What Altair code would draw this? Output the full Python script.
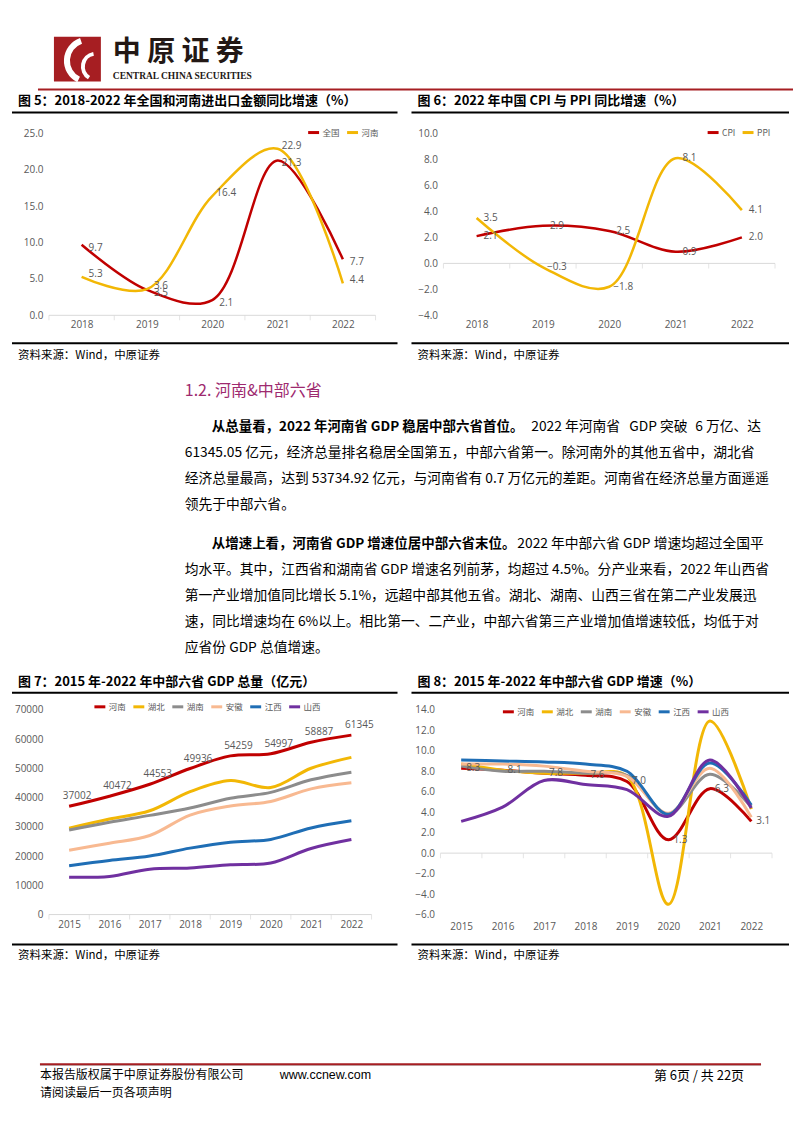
import altair as alt
import pandas as pd

CJK = "Noto Sans CJK SC"
NUM = "Open Sans"
GREY = "#595959"
AXISLINE = "#d9d9d9"
RED = "#C00000"
YEL = "#F2B705"

# ---------------- data ----------------
years5 = [2018, 2019, 2020, 2021, 2022]
series5 = ["全国", "河南"]
nation5 = [9.7, 3.5, 2.1, 21.3, 7.7]
henan5 = [5.3, 3.6, 16.4, 22.9, 4.4]

series6 = ["CPI", "PPI"]
cpi6 = [2.1, 2.9, 2.5, 0.9, 2.0]
ppi6 = [3.5, -0.3, -1.8, 8.1, 4.1]

years7 = [2015, 2016, 2017, 2018, 2019, 2020, 2021, 2022]
provinces = ["河南", "湖北", "湖南", "安徽", "江西", "山西"]
prov_colors = [RED, YEL, "#8C8C8C", "#F8B991", "#1F6EB5", "#7030A0"]

gdp_henan = [37002, 40472, 44553, 49936, 54259, 54997, 58887, 61345]
gdp_hubei = [29550, 32665, 35478, 42022, 45828, 43443, 50013, 53735]
gdp_hunan = [28902, 31551, 33903, 36426, 39752, 41782, 46063, 48670]
gdp_anhui = [22006, 24408, 27018, 34011, 37114, 38681, 42959, 45045]
gdp_jiangxi = [16724, 18499, 20006, 22716, 24758, 25692, 29620, 32075]
gdp_shanxi = [12766, 13050, 15528, 15958, 17027, 17652, 22590, 25643]

gr_henan = [8.3, 8.1, 7.8, 7.6, 7.0, 1.3, 6.3, 3.1]
gr_hubei = [8.7, 8.1, 7.8, 7.8, 7.5, -5.0, 12.9, 4.3]
gr_hunan = [8.5, 8.0, 8.0, 7.8, 7.6, 3.8, 7.7, 4.5]
gr_anhui = [8.7, 8.7, 8.5, 8.0, 7.5, 3.9, 8.3, 3.5]
gr_jiangxi = [9.1, 9.0, 8.9, 8.7, 8.0, 3.8, 8.8, 4.7]
gr_shanxi = [3.1, 4.5, 7.1, 6.7, 6.2, 3.6, 9.1, 4.4]

SOURCE = "资料来源：Wind，中原证券"
title5 = "图 5：2018-2022 年全国和河南进出口金额同比增速（%）"
title6 = "图 6：2022 年中国 CPI 与 PPI 同比增速（%）"
title7 = "图 7：2015 年-2022 年中部六省 GDP 总量（亿元）"
title8 = "图 8：2015 年-2022 年中部六省 GDP 增速（%）"

DUMMY = pd.DataFrame({"_": [0]})
OX = 41  # text rows share the plot origin of the first chart column


def long(years, names, arrays):
    rows = []
    for n, arr in zip(names, arrays):
        for yr, v in zip(years, arr):
            rows.append({"year": yr, "series": n, "value": v})
    return pd.DataFrame(rows)


def txt(s, x, y, size=12, weight="normal", color="#000000", font=CJK,
        align="left", baseline="middle"):
    return alt.Chart(DUMMY).mark_text(
        text=s, fontSize=size, fontWeight=weight, color=color, font=font,
        align=align, baseline=baseline
    ).encode(x=alt.value(x), y=alt.value(y))


def hline(x1, x2, y, color="#000000", width=2):
    return alt.Chart(DUMMY).mark_rule(color=color, strokeWidth=width).encode(
        x=alt.value(x1), x2=alt.value(x2), y=alt.value(y))


def panel(df, years, ydomain, yvalues, yfmt, width, height, names, colors,
          lx, ly, label_dy, label_fmt, ldx, title, title_x,
          line_l, line_r, ty, tly, bly, sy, stroke=2.5, xpad=4):
    xscale = alt.Scale(domain=[years[0] - 0.5, years[-1] + 0.5], nice=False, zero=False)
    yscale = alt.Scale(domain=ydomain, nice=False, zero=False)
    x = alt.X("year:Q", scale=xscale,
              axis=alt.Axis(values=years, format="d", title=None, labelPadding=xpad,
                            labelFlush=False))
    y = alt.Y("value:Q", scale=yscale,
              axis=alt.Axis(values=yvalues, format=yfmt, title=None, minExtent=41,
                            maxExtent=41, labelPadding=6))
    bnds = [yr - 0.5 for yr in years] + [years[-1] + 0.5]
    zero = alt.Chart(pd.DataFrame({"value": [0]})).mark_rule(
        color=AXISLINE, strokeWidth=1).encode(y=y)
    ticks = alt.Chart(pd.DataFrame({"year": bnds, "value": [0] * len(bnds)})).mark_tick(
        orient="vertical", size=5, thickness=1, color=AXISLINE, yOffset=2.5
    ).encode(x=x, y=y)
    lines = alt.Chart(df).mark_line(interpolate="catmull-rom", strokeWidth=stroke).encode(
        x=x, y=y,
        color=alt.Color("series:N", scale=alt.Scale(domain=names, range=colors),
                        legend=alt.Legend(orient="none", legendX=lx, legendY=ly,
                                          direction="horizontal", columns=len(names),
                                          title=None, symbolType="stroke",
                                          symbolStrokeWidth=3, symbolSize=120,
                                          labelFont=CJK, labelFontSize=8.5,
                                          labelColor=GREY, columnPadding=0,
                                          labelOffset=2, padding=0)))
    labels = [
        alt.Chart(df[df["series"] == s]).mark_text(
            dx=ldx, dy=d, fontSize=10, color=GREY, font=NUM
        ).encode(x=x, y=y, text=alt.Text("value:Q", format=label_fmt))
        for s, d in label_dy.items()
    ]
    deco = [
        txt(title, title_x, ty, size=13, weight="bold"),
        hline(line_l, line_r, tly),
        hline(line_l, line_r, bly),
        txt(SOURCE, title_x, sy, size=11.5),
    ]
    return alt.layer(zero, ticks, lines, *labels, *deco).properties(width=width, height=height)


df5 = long(years5, series5, [nation5, henan5])
df6 = long(years5, series6, [cpi6, ppi6])
df7 = long(years7, provinces, [gdp_henan, gdp_hubei, gdp_hunan, gdp_anhui, gdp_jiangxi, gdp_shanxi])
df8 = long(years7, provinces, [gr_henan, gr_hubei, gr_hunan, gr_anhui, gr_jiangxi, gr_shanxi])

p5 = panel(df5, years5, [0, 25], [0, 5, 10, 15, 20, 25], ".1f", 327, 182, series5,
           [RED, YEL], 258, -8, {"全国": 3, "河南": -3}, ".1f", 14, title5, -31, -37, 349,
           -33, -21, 210, 223)
p6 = panel(df6, years5, [-4, 10], [-4, -2, 0, 2, 4, 6, 8, 10], ".1f", 332, 182, series6,
           [RED, YEL], 263, -8, {"CPI": 0, "PPI": 0}, ".1f", 14, title6, -26, -32, 346,
           -33, -21, 210, 223)
p7 = panel(df7, years7, [0, 70000], list(range(0, 70001, 10000)), "d", 323, 205,
           provinces, prov_colors, 44, -10, {"河南": -10}, "d", 8, title7, -31, -37, 349,
           -28, -17, 235, 247, stroke=3, xpad=5)
p8 = panel(df8, years7, [-6, 14], list(range(-6, 15, 2)), ".1f", 332, 205,
           provinces, prov_colors, 61, -5, {"河南": 0}, ".1f", 12, title8, -23, -29, 349,
           -28, -17, 235, 247, stroke=3, xpad=7)

# ---------------- header ----------------
W = 745
header = alt.layer(
    alt.Chart(DUMMY).mark_rect(color="#A61E22").encode(
        x=alt.value(46 - OX), x2=alt.value(93 - OX), y=alt.value(28), y2=alt.value(73)),
    alt.Chart(DUMMY).mark_arc(radius=24, radius2=18, theta=3.6, theta2=5.95, color="white").encode(
        x=alt.value(80 - OX), y=alt.value(52)),
    alt.Chart(DUMMY).mark_arc(radius=15, radius2=11, theta=3.7, theta2=6.1, color="white").encode(
        x=alt.value(88 - OX), y=alt.value(58)),
    txt("中 原 证 券", 105 - OX, 44, size=28, weight="bold", color="#231815"),
    txt("CENTRAL CHINA SECURITIES", 105 - OX, 67, size=9.5, weight="bold", color="#231815",
        font="Liberation Serif"),
    hline(30 - OX, W, 81, color="#A61E22", width=2),
).properties(width=W, height=86)

# ---------------- middle text ----------------
P = 13.8
mid = alt.layer(
    txt("1.2.  河南&中部六省", 177 - OX, 29, size=16, color="#9E2A6F"),
    txt("从总量看，2022 年河南省 GDP 稳居中部六省首位。", 204 - OX, 65, size=13.5, weight="bold"),
    txt("2022 年河南省", 524 - OX, 65, size=P),
    txt("GDP 突破", 622 - OX, 65, size=P),
    txt("6 万亿、达", 754 - OX, 65, size=P, align="right"),
    txt("61345.05 亿元，经济总量排名稳居全国第五，中部六省第一。除河南外的其他五省中，湖北省", 177 - OX, 91, size=P),
    txt("经济总量最高，达到 53734.92 亿元，与河南省有 0.7 万亿元的差距。河南省在经济总量方面遥遥", 177 - OX, 117, size=P),
    txt("领先于中部六省。", 177 - OX, 143, size=P),
    txt("从增速上看，河南省 GDP 增速位居中部六省末位。", 204 - OX, 182, size=13.5, weight="bold"),
    txt("2022 年中部六省 GDP 增速均超过全国平", 510 - OX, 182, size=P),
    txt("均水平。其中，江西省和湖南省 GDP 增速名列前茅，均超过 4.5%。分产业来看，2022 年山西省", 177 - OX, 208, size=P),
    txt("第一产业增加值同比增长 5.1%，远超中部其他五省。湖北、湖南、山西三省在第二产业发展迅", 177 - OX, 234, size=P),
    txt("速，同比增速均在 6%以上。相比第一、二产业，中部六省第三产业增加值增速较低，均低于对", 177 - OX, 260, size=P),
    txt("应省份 GDP 总值增速。", 177 - OX, 286, size=P),
).properties(width=W, height=314)

# ---------------- footer ----------------
footer = alt.layer(
    hline(32 - OX, 754 - OX, 103, color="#bbbbbb", width=1),
    hline(32 - OX, 754 - OX, 102, color="#A61E22", width=2),
    txt("本报告版权属于中原证券股份有限公司", 32 - OX, 113, size=12),
    txt("www.ccnew.com", 272 - OX, 113, size=12.5, font="Liberation Sans"),
    txt("第 6页  /  共 22页", 737 - OX, 114, size=13, align="right"),
    txt("请阅读最后一页各项声明", 32 - OX, 131, size=12),
).properties(width=W, height=160)

row2 = alt.hconcat(p5, p6, spacing=4).resolve_scale(color="independent")
row4 = alt.hconcat(p7, p8, spacing=1).resolve_scale(color="independent")

chart = alt.vconcat(header, row2, mid, row4, footer, spacing=0).resolve_scale(
    color="independent"
).properties(padding=0).configure_view(stroke=None).configure_axis(
    labelFont=NUM, labelFontSize=10, labelColor=GREY, domain=False, ticks=False, grid=False
).configure_concat(spacing=0)

chart.save("out.html", embed_options={"renderer": "svg", "actions": False})
